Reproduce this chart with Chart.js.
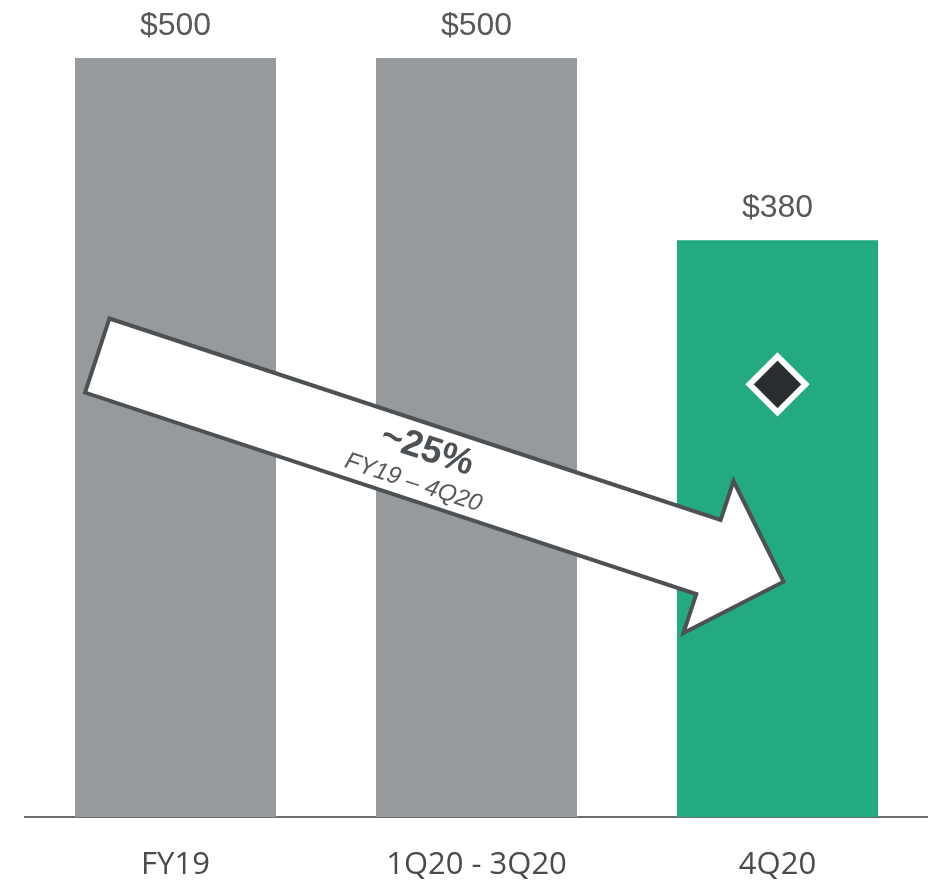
<!DOCTYPE html>
<html>
<head>
<meta charset="utf-8">
<script src="https://cdn.jsdelivr.net/npm/chart.js@4"></script>
<style>
  html, body { margin: 0; padding: 0; background: #fff; }
  #wrap { width: 928px; height: 882px; position: relative; }
</style>
</head>
<body>
<div id="wrap"><canvas id="costChart"></canvas></div>
<script>
// Chart data
const categories = ['FY19', '1Q20 - 3Q20', '4Q20'];
const barValues = [500, 500, 380];
const barColors = ['#969a9d', '#969a9d', '#23aa80'];
const valueLabels = ['$500', '$500', '$380'];
const markerValues = [null, null, 285];

// Arrow annotation (start and tip in data units: category index, value)
const arrowStart = [-0.26, 304];
const arrowTip = [2.02, 155];
const arrowText = ['~25%', 'FY19 \u2013 4Q20'];

const valueLabelPlugin = {
    id: 'valueLabels',
    afterDatasetsDraw(chart) {
        const ctx = chart.ctx;
        const meta = chart.getDatasetMeta(0);
        ctx.save();
        ctx.font = "32px 'Liberation Sans', Arial, sans-serif";
        ctx.fillStyle = '#55595c';
        ctx.textAlign = 'center';
        ctx.textBaseline = 'alphabetic';
        meta.data.forEach((bar, i) => {
            ctx.fillText(valueLabels[i], bar.x, bar.y - 23);
        });
        ctx.restore();
    }
};

const arrowPlugin = {
    id: 'arrow',
    afterDatasetsDraw(chart) {
        const ctx = chart.ctx;
        const xs = chart.scales.x, ys = chart.scales.y;
        const x0 = xs.getPixelForValue(arrowStart[0]);
        const y0 = ys.getPixelForValue(arrowStart[1]);
        const x1 = xs.getPixelForValue(arrowTip[0]);
        const y1 = ys.getPixelForValue(arrowTip[1]);
        const len = Math.hypot(x1 - x0, y1 - y0);
        const ang = Math.atan2(y1 - y0, x1 - x0);
        const shaft = 39, head = 80, headLen = 79;

        ctx.save();
        ctx.translate(x0, y0);
        ctx.rotate(ang);
        ctx.beginPath();
        ctx.moveTo(0, -shaft);
        ctx.lineTo(len - headLen, -shaft);
        ctx.lineTo(len - headLen, -head);
        ctx.lineTo(len, 0);
        ctx.lineTo(len - headLen, head);
        ctx.lineTo(len - headLen, shaft);
        ctx.lineTo(0, shaft);
        ctx.closePath();
        ctx.fillStyle = '#ffffff';
        ctx.fill();
        ctx.lineWidth = 4;
        ctx.lineJoin = 'miter';
        ctx.strokeStyle = '#4d5154';
        ctx.stroke();

        // text inside the arrow
        ctx.textAlign = 'center';
        ctx.textBaseline = 'middle';
        ctx.fillStyle = '#4d5154';
        ctx.font = "bold 37px 'Liberation Sans', Arial, sans-serif";
        ctx.fillText(arrowText[0], 343, -13);
        ctx.fillStyle = '#55595c';
        ctx.font = "italic 24px 'Liberation Sans', Arial, sans-serif";
        ctx.fillText(arrowText[1], 340, 22);
        ctx.restore();
    }
};

const ctx = document.getElementById('costChart').getContext('2d');
new Chart(ctx, {
    data: {
        labels: categories,
        datasets: [{
            type: 'bar',
            data: barValues,
            backgroundColor: barColors,
            borderWidth: 0,
            barPercentage: 0.668,
            categoryPercentage: 1,
            order: 2
        }, {
            type: 'line',
            data: markerValues,
            showLine: false,
            pointStyle: 'rectRot',
            pointRadius: 28,
            pointHoverRadius: 28,
            pointBackgroundColor: '#2b2e30',
            pointBorderColor: '#ffffff',
            pointBorderWidth: 6,
            order: 1
        }]
    },
    options: {
        responsive: true,
        maintainAspectRatio: false,
        animation: false,
        layout: {
            autoPadding: false,
            padding: { top: 58, left: 25, right: 0, bottom: 0 }
        },
        plugins: {
            legend: { display: false },
            tooltip: { enabled: false }
        },
        scales: {
            x: {
                grid: { display: false, drawTicks: false },
                border: { display: true, color: '#6b6e70', width: 2 },
                ticks: {
                    color: '#4a4a4a',
                    padding: 30,
                    font: { family: "'Open Sans', sans-serif", size: 31 }
                },
                afterFit(scale) {
                    scale.height = 65;
                    scale.paddingLeft = 0;
                    scale.paddingRight = 0;
                }
            },
            y: {
                display: false,
                min: 0,
                max: 500
            }
        }
    },
    plugins: [valueLabelPlugin, arrowPlugin]
});
</script>
</body>
</html>
